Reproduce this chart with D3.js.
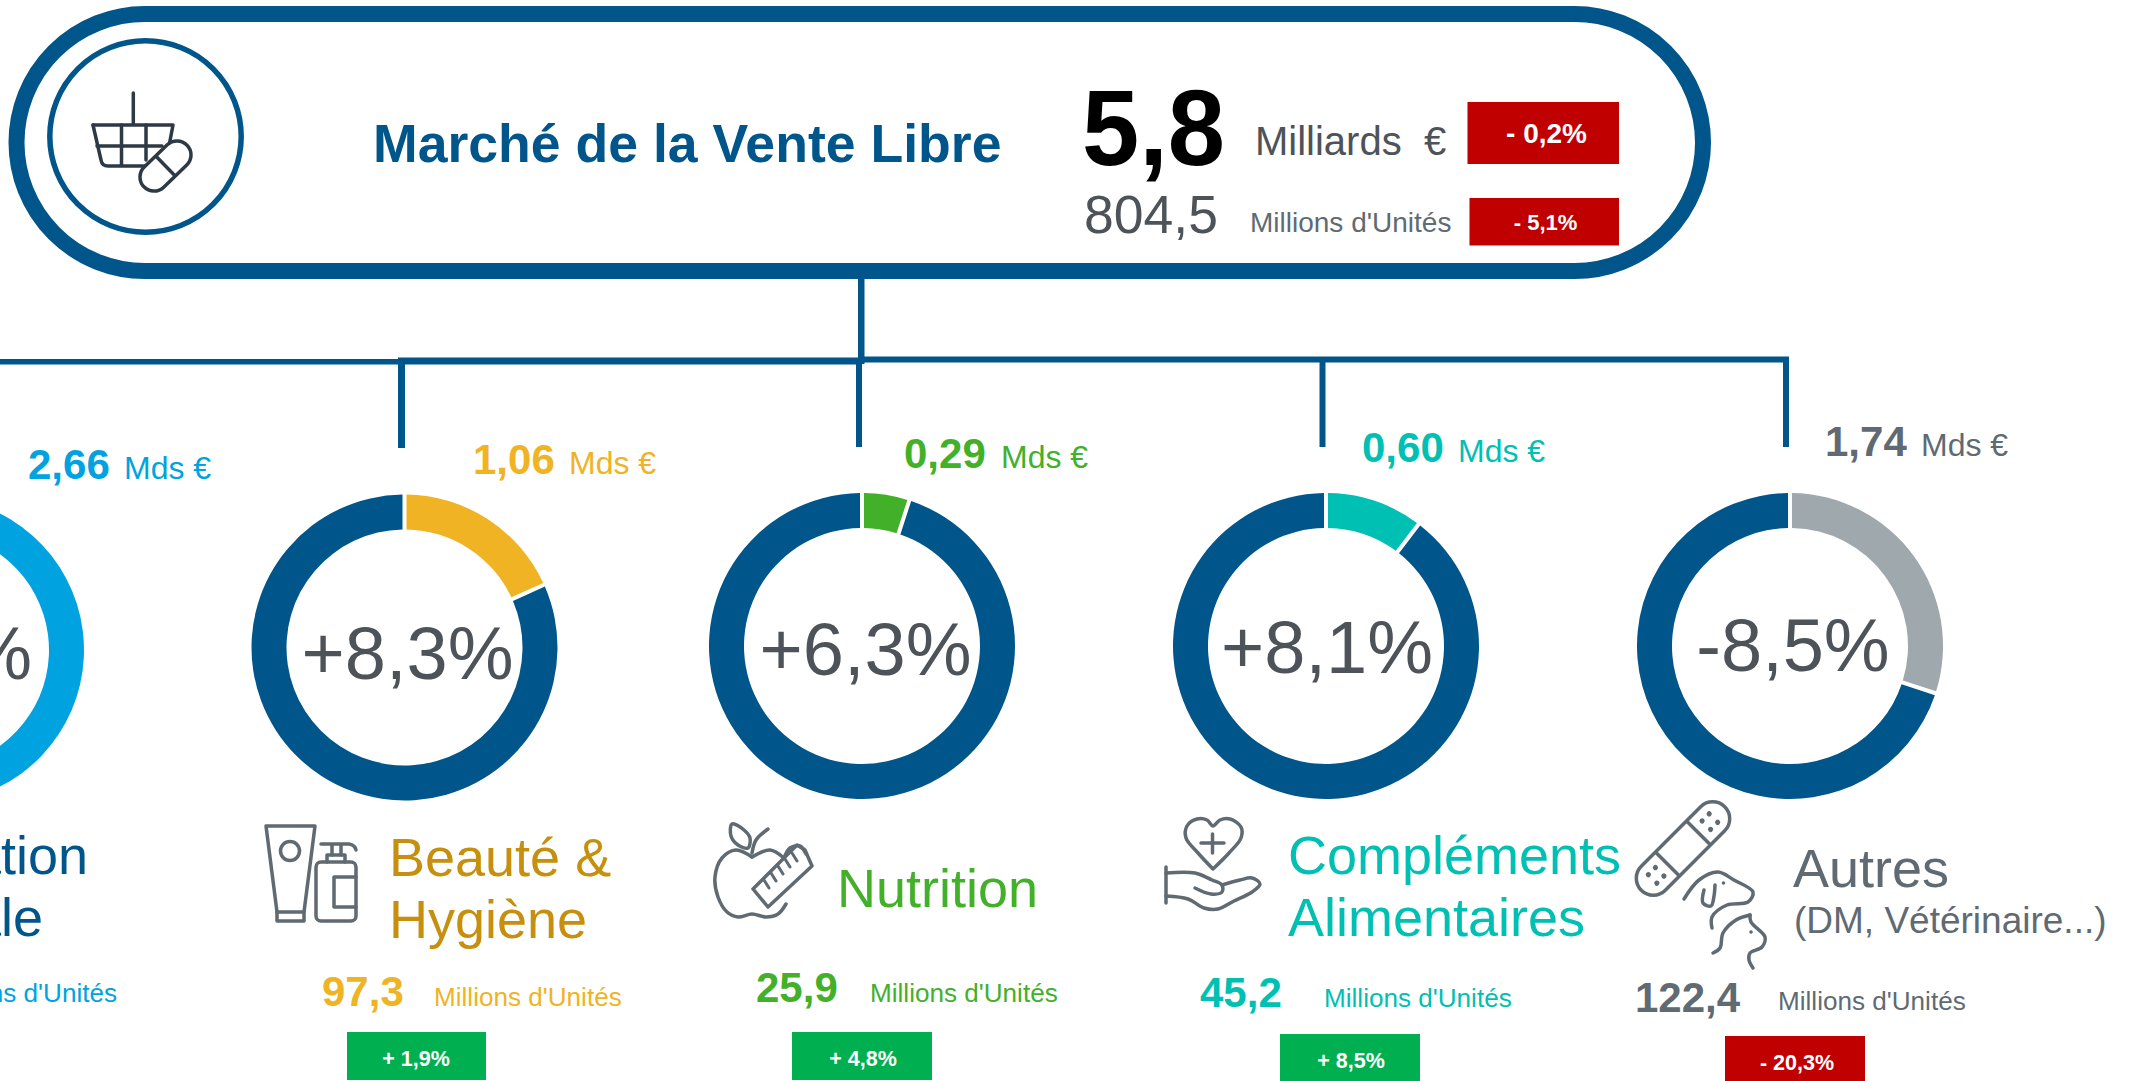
<!DOCTYPE html>
<html>
<head>
<meta charset="utf-8">
<title>Marché de la Vente Libre</title>
<script src="https://cdn.jsdelivr.net/npm/d3@7"></script>
<style>
    html, body { margin: 0; padding: 0; background: #fff; overflow: hidden; }
    svg { display: block; }
    text { font-family: "Liberation Sans", Arial, sans-serif; }
</style>
</head>
<body>
<svg id="chart" width="2133" height="1081"></svg>
<script>
// market totals
const marketTitle = "Marché de la Vente Libre"
const marketValue = 5.8
const marketUnits = 804.5
const marketValueChange = "- 0,2%"
const marketUnitsChange = "- 5,1%"

// segments, the first one runs off the left edge of the picture
const segments = ["Médication Familiale", "Beauté & Hygiène", "Nutrition", "Compléments Alimentaires", "Autres"]
const segmentLines = [["Médication", "Familiale"], ["Beauté &", "Hygiène"], ["Nutrition"], ["Compléments", "Alimentaires"], ["Autres"]]
const segmentValues = [2.66, 1.06, 0.29, 0.60, 1.74]
const segmentGrowth = ["%", "+8,3%", "+6,3%", "+8,1%", "-8,5%"]
const segmentUnits = [null, 97.3, 25.9, 45.2, 122.4]
const segmentUnitsChange = [null, "+ 1,9%", "+ 4,8%", "+ 8,5%", "- 20,3%"]

const navy = "#00568a"
const red = "#c00000"
const green = "#00b050"
const darkText = "#4d5359"
const iconGrey = "#5f6a72"
const segmentColors = ["#00a3e0", "#f0b323", "#43b02a", "#00bfb3", "#9ea8ad"]
const nameColors = [navy, "#c68f0d", "#43b02a", "#00bfb3", "#5f6a72"]
const valueColors = ["#00a3e0", "#f0b323", "#43b02a", "#00bfb3", "#5f6a72"]

// where each card sits on the page
const cards = [
    {cx: -69, cy: 650, growthX: 32, growthY: 679, growthAnchor: "end", valueX: 28, valueY: 479, mdsX: 124,
     nameX: -173, nameY: [874, 936], unitX: 117, unitAnchor: "end", unitY: 1002},
    {cx: 404.5, cy: 647.5, growthX: 407.5, growthY: 679, valueX: 473, valueY: 474, mdsX: 569,
     nameX: 389, nameY: [876, 938], numX: 322, numY: 1006, unitX: 434, unitY: 1006,
     badge: [347, 1032, 139, 48], badgeTextX: 416, badgeTextY: 1066},
    {cx: 862, cy: 646, growthX: 865.5, growthY: 675, valueX: 904, valueY: 468, mdsX: 1001,
     nameX: 837, nameY: [907], numX: 756, numY: 1002, unitX: 870, unitY: 1002,
     badge: [792, 1032, 140, 48], badgeTextX: 863, badgeTextY: 1066},
    {cx: 1326, cy: 646, growthX: 1327, growthY: 673, valueX: 1362, valueY: 462, mdsX: 1458,
     nameX: 1288, nameY: [874, 936], numX: 1200, numY: 1007, unitX: 1324, unitY: 1007,
     badge: [1280, 1034, 140, 48], badgeTextX: 1351, badgeTextY: 1068},
    {cx: 1790, cy: 646, growthX: 1793, growthY: 671, valueX: 1825, valueY: 456, mdsX: 1921,
     nameX: 1793, nameY: [887], numX: 1635, numY: 1012, unitX: 1778, unitY: 1010,
     badge: [1725, 1036, 140, 46], badgeTextX: 1797, badgeTextY: 1070}
]

const frFormat = d3.formatLocale({decimal: ",", thousands: " ", grouping: [3], currency: ["", " €"]})
const oneDecimal = frFormat.format(".1f")
const twoDecimals = frFormat.format(".2f")

const svg = d3.select("#chart")

function addText(x, y, str, size, color, bold, anchor) {
    return svg.append("text")
        .attr("x", x)
        .attr("y", y)
        .attr("font-size", size)
        .attr("font-weight", bold ? "bold" : "normal")
        .attr("text-anchor", anchor || "start")
        .attr("fill", color)
        .text(str)
}

function addRect(x, y, w, h, color) {
    svg.append("rect").attr("x", x).attr("y", y).attr("width", w).attr("height", h).attr("fill", color)
}

// tree connectors
addRect(0, 359, 400, 5.5, navy)
addRect(398, 357.5, 463, 7, navy)
addRect(861, 356.5, 928, 6, navy)
addRect(858, 279, 6.5, 85, navy)
addRect(398, 358, 7, 90, navy)
addRect(856, 360, 6, 87, navy)
addRect(1319.5, 360, 6, 87, navy)
addRect(1783, 360, 6, 87, navy)

// header pill
svg.append("rect")
    .attr("x", 16.5).attr("y", 14)
    .attr("width", 1686.5).attr("height", 257)
    .attr("rx", 128.5)
    .attr("fill", "#fff")
    .attr("stroke", navy)
    .attr("stroke-width", 16)
svg.append("circle")
    .attr("cx", 145.5).attr("cy", 136.5).attr("r", 95.7)
    .attr("fill", "#fff")
    .attr("stroke", navy)
    .attr("stroke-width", 5.5)

addText(373, 162, marketTitle, 53.6, navy, true)
addText(1082, 165, oneDecimal(marketValue), 107, "#000", true)
    .attr("textLength", 143).attr("lengthAdjust", "spacingAndGlyphs")
addText(1255, 155, "Milliards\u00a0\u00a0€", 40, darkText)
addText(1084, 233, oneDecimal(marketUnits), 53.5, darkText)
addText(1250, 232, "Millions d'Unités", 28, iconGrey)
addRect(1467.5, 102, 151.5, 62, red)
addRect(1469.5, 198, 149.5, 47.5, red)
addText(1546.5, 143, marketValueChange, 28, "#fff", true, "middle")
addText(1545.5, 230, marketUnitsChange, 22, "#fff", true, "middle")

// donuts
const pie = d3.pie().sort(null).startAngle(0).endAngle(2 * Math.PI)
const arc = d3.arc().innerRadius(118).outerRadius(153).padAngle(4 / 153).padRadius(153)

segmentValues.forEach((value, i) => {
    const c = cards[i]
    const slices = pie([value, marketValue - value])
    svg.append("g")
        .attr("transform", "translate(" + c.cx + "," + c.cy + ")")
        .selectAll("path")
        .data(slices)
        .enter().append("path")
        .attr("d", arc)
        .attr("fill", (d, j) => j === 0 ? segmentColors[i] : navy)

    addText(c.growthX, c.growthY, segmentGrowth[i], 74, darkText, false, c.growthAnchor || "middle")

    addText(c.valueX, c.valueY, twoDecimals(value), 42, valueColors[i], true)
    addText(c.mdsX, c.valueY, "Mds €", 32, valueColors[i])

    segmentLines[i].forEach((line, k) => {
        addText(c.nameX, c.nameY[k], line, 54, nameColors[i], false)
    })

    if (segmentUnits[i] !== null) {
        addText(c.numX, c.numY, oneDecimal(segmentUnits[i]), 42, valueColors[i], true)
    }
    addText(c.unitX, c.unitY, "Millions d'Unités", 26.1, valueColors[i], false, c.unitAnchor)

    if (c.badge) {
        addRect(c.badge[0], c.badge[1], c.badge[2], c.badge[3], segmentUnitsChange[i][0] === "+" ? green : red)
        addText(c.badgeTextX, c.badgeTextY, segmentUnitsChange[i], 21.5, "#fff", true, "middle")
    }
})
addText(1794, 933, "(DM, Vétérinaire...)", 37, iconGrey)

// icons, hand traced
const smooth = d3.line().curve(d3.curveCatmullRom.alpha(0.5))
const smoothClosed = d3.line().curve(d3.curveCatmullRomClosed.alpha(0.5))
const straight = d3.line()

function stroke(d, color, width, fill) {
    return svg.append("path")
        .attr("d", d)
        .attr("fill", fill || "none")
        .attr("stroke", color)
        .attr("stroke-width", width || 3.5)
        .attr("stroke-linecap", "round")
        .attr("stroke-linejoin", "round")
}

// basket and pill
const basketColor = "#2d3a45"
stroke(straight([[133.3, 93], [133.3, 124]]), basketColor)
stroke(straight([[93, 125], [173, 125], [169, 146]]), basketColor)
stroke("M93,125 L101,160 Q102,166 108,166 L148,166", basketColor)
stroke(straight([[97, 146], [162, 146]]), basketColor)
stroke(straight([[121.5, 125], [121.5, 165]]), basketColor)
stroke(straight([[146, 125], [146, 160]]), basketColor)
svg.append("g")
    .attr("transform", "translate(165.5,166) rotate(-44)")
    .call(g => {
        g.append("rect")
            .attr("x", -30).attr("y", -14).attr("width", 60).attr("height", 28).attr("rx", 14)
            .attr("fill", "#fff").attr("stroke", basketColor).attr("stroke-width", 3.5)
        g.append("line")
            .attr("x1", 0).attr("x2", 0).attr("y1", -14).attr("y2", 14)
            .attr("stroke", basketColor).attr("stroke-width", 3.5)
    })

// tube and pump bottle
stroke(straight([[266, 826], [315, 826], [304, 912], [277, 912], [266, 826]]), iconGrey)
stroke(straight([[277, 912], [277, 921], [304, 921], [304, 912]]), iconGrey)
svg.append("circle").attr("cx", 290).attr("cy", 851).attr("r", 9.5)
    .attr("fill", "none").attr("stroke", iconGrey).attr("stroke-width", 3.5)
svg.append("rect").attr("x", 316).attr("y", 862).attr("width", 40).attr("height", 59).attr("rx", 5)
    .attr("fill", "none").attr("stroke", iconGrey).attr("stroke-width", 3.5)
stroke(straight([[356, 877], [334, 877], [334, 907], [356, 907]]), iconGrey)
stroke(straight([[327, 862], [327, 855], [345, 855], [345, 862]]), iconGrey)
stroke(straight([[332, 855], [332, 845]]), iconGrey)
stroke(straight([[341, 855], [341, 845]]), iconGrey)
stroke("M321,844 L349,844 Q355,845 356,850", iconGrey)

// apple with tape
stroke(smooth([[752, 857], [736, 850], [722, 858], [715, 877], [718, 897], [727, 912], [738, 917], [752, 914], [766, 917], [778, 914], [786, 904]]), iconGrey)
stroke(smooth([[752, 857], [770, 850], [784, 858]]), iconGrey)
stroke(smoothClosed([[732, 824], [744, 830], [750, 838], [748, 848], [738, 845], [731, 836]]), iconGrey)
stroke(smooth([[752, 853], [756, 840], [768, 829]]), iconGrey)
stroke(straight([[753, 889], [784, 858], [797, 845], [805, 850], [812, 866], [768, 907], [753, 889]]), iconGrey, 3.5, "#fff")
stroke(smooth([[784, 858], [790, 848], [800, 846], [806, 854]]), iconGrey)
;[[764, 880], [771, 873], [778, 866], [785, 859], [792, 853]].forEach(t => {
    stroke(straight([t, [t[0] + 5, t[1] + 8]]), iconGrey, 3)
})

// heart and hand
stroke(smooth([[1213, 869], [1198, 853], [1186, 838], [1187, 826], [1197, 819], [1207, 820], [1213, 826], [1220, 820], [1230, 819], [1241, 827], [1241, 838], [1229, 853], [1213, 869]]), iconGrey)
stroke(straight([[1201, 843], [1224, 843]]), iconGrey)
stroke(straight([[1212.5, 834], [1212.5, 853]]), iconGrey)
stroke(straight([[1166, 867], [1166, 903]]), iconGrey)
stroke(smooth([[1166, 873], [1195, 873], [1212, 880], [1222, 885], [1222, 892], [1211, 894], [1195, 888]]), iconGrey)
stroke(smooth([[1222, 885], [1240, 880], [1252, 878], [1260, 884], [1252, 892], [1234, 901], [1218, 909], [1204, 908], [1188, 899], [1166, 896]]), iconGrey)

// bandage
svg.append("g")
    .attr("transform", "translate(1683,848.5) rotate(-45)")
    .call(g => {
        g.append("rect")
            .attr("x", -59).attr("y", -17).attr("width", 118).attr("height", 34).attr("rx", 17)
            .attr("fill", "none").attr("stroke", iconGrey).attr("stroke-width", 3.5)
        ;[-22, 22].forEach(x => {
            g.append("line")
                .attr("x1", x).attr("x2", x).attr("y1", -17).attr("y2", 17)
                .attr("stroke", iconGrey).attr("stroke-width", 3.5)
        })
        ;[-43, -33, 33, 43].forEach(x => {
            ;[-6, 6].forEach(y => {
                g.append("circle").attr("cx", x).attr("cy", y).attr("r", 2.6).attr("fill", iconGrey)
            })
        })
    })

// dog and cat
stroke(smooth([[1684, 899], [1699, 880], [1718, 872], [1734, 880], [1753, 892], [1748, 902], [1727, 905], [1712, 917], [1712, 928]]), iconGrey)
stroke(smooth([[1704, 890], [1703, 903], [1711, 906], [1714, 896], [1715, 885]]), iconGrey)
svg.append("circle").attr("cx", 1723.5).attr("cy", 883).attr("r", 1.8).attr("fill", iconGrey)
stroke(smooth([[1713, 953], [1720, 948], [1723, 933], [1736, 920], [1750, 915]]), iconGrey)
stroke(smooth([[1750, 915], [1751, 922], [1765, 937], [1762, 947], [1750, 953], [1749, 960], [1753, 968]]), iconGrey)
svg.append("circle").attr("cx", 1751).attr("cy", 932).attr("r", 1.8).attr("fill", iconGrey)
</script>
</body>
</html>
